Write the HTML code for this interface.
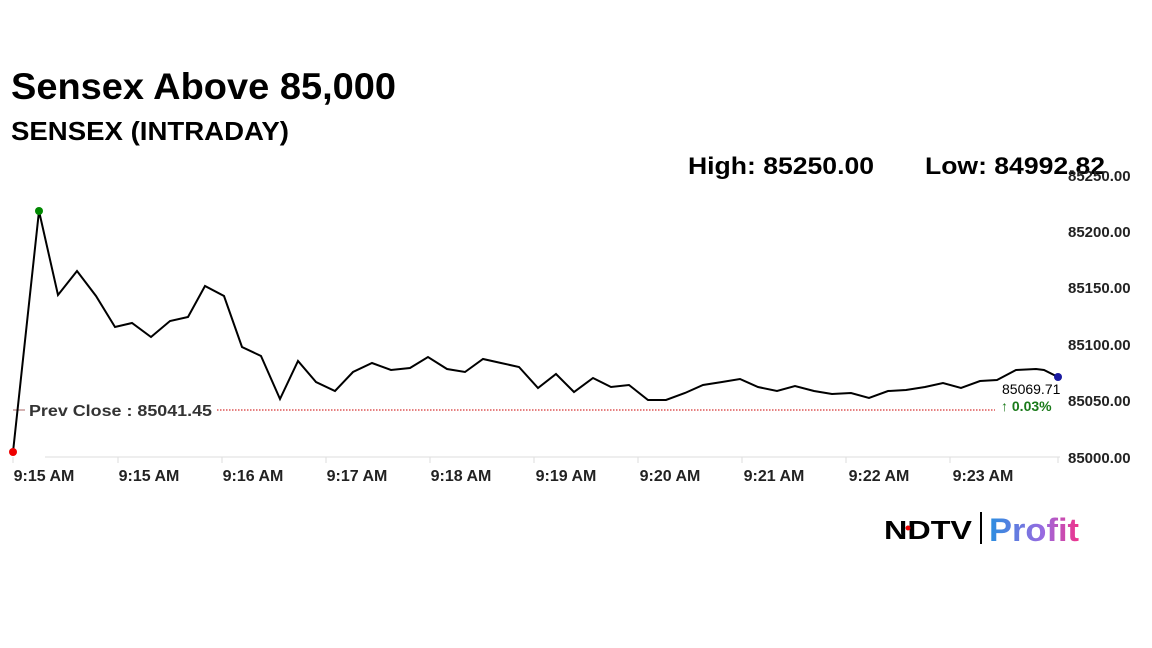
<!DOCTYPE html>
<html><head><meta charset="utf-8"><style>
body{margin:0;background:#fff;width:1152px;height:648px;overflow:hidden;font-family:"Liberation Sans",sans-serif}
</style></head><body>
<svg width="1152" height="648" xmlns="http://www.w3.org/2000/svg" style="position:absolute;left:0;top:0">
<text x="11" y="99" font-family="Liberation Sans" font-weight="bold" font-size="37" fill="#000" textLength="385" lengthAdjust="spacingAndGlyphs">Sensex Above 85,000</text>
<text x="11" y="140" font-family="Liberation Sans" font-weight="bold" font-size="26" fill="#000" textLength="278" lengthAdjust="spacingAndGlyphs">SENSEX (INTRADAY)</text>
<text x="688" y="174" font-family="Liberation Sans" font-weight="bold" font-size="24" fill="#000" textLength="186" lengthAdjust="spacingAndGlyphs">High: 85250.00</text>
<text x="925" y="174" font-family="Liberation Sans" font-weight="bold" font-size="24" fill="#000" textLength="180" lengthAdjust="spacingAndGlyphs">Low: 84992.82</text>
<g font-family="Liberation Sans" font-weight="bold" font-size="15" fill="#222">
<text x="1068" y="181">85250.00</text>
<text x="1068" y="237">85200.00</text>
<text x="1068" y="293">85150.00</text>
<text x="1068" y="350">85100.00</text>
<text x="1068" y="406">85050.00</text>
<text x="1068" y="463">85000.00</text>
</g>
<line x1="45" y1="457" x2="1060" y2="457" stroke="#ddd" stroke-width="1"/>
<g stroke="#ddd"><line x1="13" y1="457" x2="13" y2="463"/><line x1="118" y1="457" x2="118" y2="463"/><line x1="222" y1="457" x2="222" y2="463"/><line x1="326" y1="457" x2="326" y2="463"/><line x1="430" y1="457" x2="430" y2="463"/><line x1="534" y1="457" x2="534" y2="463"/><line x1="638" y1="457" x2="638" y2="463"/><line x1="742" y1="457" x2="742" y2="463"/><line x1="846" y1="457" x2="846" y2="463"/><line x1="950" y1="457" x2="950" y2="463"/><line x1="1058" y1="457" x2="1058" y2="463"/></g>
<g font-family="Liberation Sans" font-weight="bold" font-size="16" fill="#222" text-anchor="middle">
<text x="44" y="481">9:15 AM</text><text x="149" y="481">9:15 AM</text><text x="253" y="481">9:16 AM</text><text x="357" y="481">9:17 AM</text><text x="461" y="481">9:18 AM</text><text x="566" y="481">9:19 AM</text><text x="670" y="481">9:20 AM</text><text x="774" y="481">9:21 AM</text><text x="879" y="481">9:22 AM</text><text x="983" y="481">9:23 AM</text>
</g>
<line x1="13" y1="410" x2="25" y2="410" stroke="#a66" stroke-width="1"/>
<line x1="217" y1="410" x2="995" y2="410" stroke="#c00" stroke-width="1" stroke-dasharray="1.5,1.5"/>
<text x="29" y="416" font-family="Liberation Sans" font-weight="bold" font-size="16" fill="#333" textLength="183" lengthAdjust="spacingAndGlyphs">Prev Close : 85041.45</text>
<polyline fill="none" stroke="#000" stroke-width="2" points="13,452 39,211 58,295 77,271 96,296 115,327 132,323 151,337 170,321 188,317 205,286 224,296 242,347 261,356 280,399 298,361 316,382 335,391 353,372 372,363 391,370 410,368 428,357 447,369 465,372 483,359 501,363 519,367 538,388 556,374 574,392 593,378 611,387 629,385 648,400 666,400 685,393 703,385 722,382 740,379 758,387 777,391 795,386 814,391 832,394 851,393 869,398 888,391 906,390 925,387 943,383 961,388 980,381 997,380 1016,370 1036,369 1044,370 1058,377"/>
<circle cx="13" cy="452" r="4" fill="#e00"/>
<circle cx="39" cy="211" r="4" fill="#080"/>
<circle cx="1058" cy="377" r="4" fill="#1a1aa0"/>
<text x="1002" y="394" font-family="Liberation Sans" font-size="14" fill="#000">85069.71</text>
<text x="1001" y="411" font-family="Liberation Sans" font-weight="bold" font-size="14" fill="#1a7a1a">↑ 0.03%</text>
<defs><linearGradient id="g" x1="0" x2="1"><stop offset="0" stop-color="#2a8ee0"/><stop offset="0.6" stop-color="#9a6ae0"/><stop offset="1" stop-color="#f0338a"/></linearGradient></defs>
<text x="884" y="539" font-family="Liberation Sans" font-weight="bold" font-size="26" fill="#000" textLength="88" lengthAdjust="spacingAndGlyphs">NDTV</text>
<circle cx="908" cy="528" r="2.5" fill="#e00"/>
<line x1="981" y1="512" x2="981" y2="544" stroke="#000" stroke-width="2"/>
<text x="989" y="541" font-family="Liberation Sans" font-weight="bold" font-size="32" fill="url(#g)" textLength="90" lengthAdjust="spacingAndGlyphs">Profit</text>
</svg>
</body></html>
